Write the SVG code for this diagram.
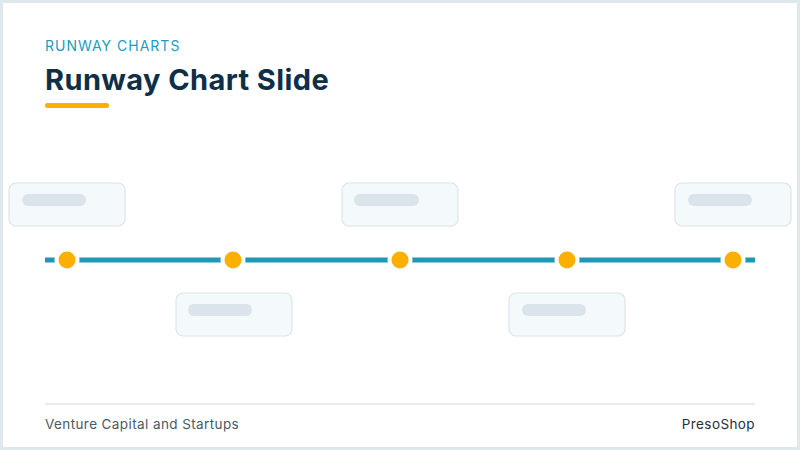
<svg xmlns="http://www.w3.org/2000/svg" width="800" height="450" viewBox="0 0 800 450">
<style>
.box{fill:#f4f9fb;stroke:#dbe4e9;stroke-width:1.2}
.bar{fill:#dae4ea}
.dot{fill:#fbb000;stroke:#ffffff;stroke-width:4}
.ft{font-family:Inter,"Liberation Sans",sans-serif;font-size:13.5px;letter-spacing:0.4px}
</style>
<rect x="0" y="0" width="800" height="450" fill="#dfe9ed"/>
<rect x="3" y="3" width="794" height="444" fill="#ffffff"/>
<g id="header">
<text x="45" y="51" font-family="Inter,'Liberation Sans',sans-serif" font-size="14" fill="#1c9cbf" letter-spacing="1">RUNWAY CHARTS</text>
<text x="45" y="90" font-family="Inter,'Liberation Sans',sans-serif" font-size="29" font-weight="700" fill="#0f2f47" letter-spacing="0.4">Runway Chart Slide</text>
<rect x="45" y="103" width="64" height="5" rx="2.5" fill="#fbb000"/>
</g>
<g id="connectors">
<line x1="45" y1="260" x2="755" y2="260" stroke="#1f97b5" stroke-width="5"/>
</g>
<g id="node1"><rect class="box" x="9" y="183" width="116" height="43" rx="7"/><rect class="bar" x="22" y="194" width="64" height="12" rx="6"/><circle class="dot" cx="67" cy="260" r="10.5"/></g>
<g id="node2"><rect class="box" x="176" y="293" width="116" height="43" rx="7"/><rect class="bar" x="188" y="304" width="64" height="12" rx="6"/><circle class="dot" cx="233" cy="260" r="10.5"/></g>
<g id="node3"><rect class="box" x="342" y="183" width="116" height="43" rx="7"/><rect class="bar" x="354" y="194" width="65" height="12" rx="6"/><circle class="dot" cx="400" cy="260" r="10.5"/></g>
<g id="node4"><rect class="box" x="509" y="293" width="116" height="43" rx="7"/><rect class="bar" x="522" y="304" width="64" height="12" rx="6"/><circle class="dot" cx="567" cy="260" r="10.5"/></g>
<g id="node5"><rect class="box" x="675" y="183" width="116" height="43" rx="7"/><rect class="bar" x="688" y="194" width="64" height="12" rx="6"/><circle class="dot" cx="733" cy="260" r="10.5"/></g>
<g id="footer">
<line x1="45" y1="404" x2="755" y2="404" stroke="#dde5e9" stroke-width="1.5"/>
<text class="ft" x="45" y="429" fill="#4a5a66">Venture Capital and Startups</text>
<text class="ft" x="755" y="429" fill="#1f2f3a" text-anchor="end">PresoShop</text>
</g>
</svg>
